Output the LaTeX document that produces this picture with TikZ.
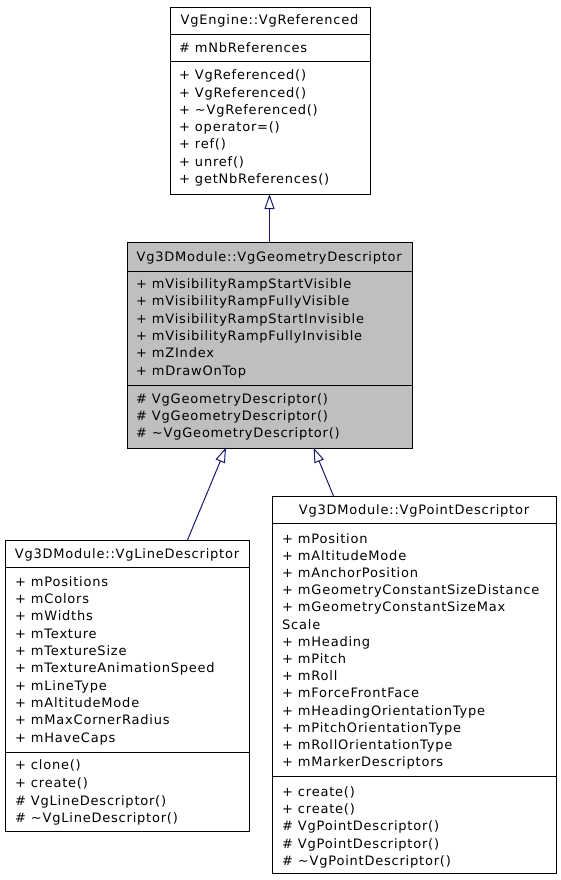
\documentclass[tikz,border=0pt]{standalone}
\usepackage{fontspec}
\setmainfont{DejaVu Sans}[LetterSpace=6]
\usetikzlibrary{arrows.meta}
\definecolor{edgeblue}{HTML}{191970}
\definecolor{boxgray}{HTML}{BFBFBF}
\tikzset{
  umlbox/.style={draw=black, line width=1pt},
  sep/.style={draw=black, line width=1pt},
  txt/.style={anchor=base west, inner sep=0pt, font=\fontsize{13}{15}\selectfont},
  ttl/.style={anchor=base, inner sep=0pt, font=\fontsize{13}{15}\selectfont},
  inherit/.style={draw=edgeblue, line width=1pt, -{Triangle[open, length=15pt, width=10pt, fill=white]}},
}
\begin{document}
\begin{tikzpicture}[x=1pt, y=-1pt]
\useasboundingbox (0,0) rectangle (560,880);

% ---------- VgEngine::VgReferenced ----------
\node[umlbox, fill=white, minimum width=200pt, minimum height=187pt, anchor=north west, inner sep=0pt] (ref) at (169.5,7) {};
\draw[sep] (169.5,34.5) -- (369.5,34.5);
\draw[sep] (169.5,61.5) -- (369.5,61.5);
\node[ttl] (refT) at (269.5,24.5) {VgEngine::VgReferenced};
\node[txt] (refA1) at (179,52.5) {\# mNbReferences};
\foreach [count=\i] \t in {+ VgReferenced(), + VgReferenced(), + \textasciitilde VgReferenced(), + operator=(), + ref(), + unref(), + getNbReferences()}
  \node[txt] (refM\i) at (179,{80+(\i-1)*17.2}) {\t};

% ---------- Vg3DModule::VgGeometryDescriptor ----------
\node[umlbox, fill=boxgray, minimum width=285.5pt, minimum height=205.5pt, anchor=north west, inner sep=0pt] (geo) at (126.5,242) {};
\draw[sep] (126.5,271.5) -- (412,271.5);
\draw[sep] (126.5,385) -- (412,385);
\node[ttl] (geoT) at (269.25,261) {Vg3DModule::VgGeometryDescriptor};
\foreach [count=\i] \t in {+ mVisibilityRampStartVisible, + mVisibilityRampFullyVisible, + mVisibilityRampStartInvisible, + mVisibilityRampFullyInvisible, + mZIndex, + mDrawOnTop}
  \node[txt] (geoA\i) at (136,{288.5+(\i-1)*17.35}) {\t};
\foreach [count=\i] \t in {\# VgGeometryDescriptor(), \# VgGeometryDescriptor(), \# \textasciitilde VgGeometryDescriptor()}
  \node[txt] (geoM\i) at (136,{403.5+(\i-1)*17.2}) {\t};

% ---------- Vg3DModule::VgLineDescriptor ----------
\node[umlbox, fill=white, minimum width=244pt, minimum height=291pt, anchor=north west, inner sep=0pt] (line) at (5,540) {};
\draw[sep] (5,567.5) -- (249,567.5);
\draw[sep] (5,752) -- (249,752);
\node[ttl] (lineT) at (127,558.5) {Vg3DModule::VgLineDescriptor};
\foreach [count=\i] \t in {+ mPositions, + mColors, + mWidths, + mTexture, + mTextureSize, + mTextureAnimationSpeed, + mLineType, + mAltitudeMode, + mMaxCornerRadius, + mHaveCaps}
  \node[txt] (lineA\i) at (15,{586.3+(\i-1)*17.3}) {\t};
\foreach [count=\i] \t in {+ clone(), + create(), \# VgLineDescriptor(), \# \textasciitilde VgLineDescriptor()}
  \node[txt] (lineM\i) at (15,{769.7+(\i-1)*17.7}) {\t};

% ---------- Vg3DModule::VgPointDescriptor ----------
\node[umlbox, fill=white, minimum width=284pt, minimum height=377pt, anchor=north west, inner sep=0pt] (point) at (272,496) {};
\draw[sep] (272,523.5) -- (556,523.5);
\draw[sep] (272,776.5) -- (556,776.5);
\node[ttl] (pointT) at (414,514.5) {Vg3DModule::VgPointDescriptor};
\foreach [count=\i] \t in {+ mPosition, + mAltitudeMode, + mAnchorPosition, + mGeometryConstantSizeDistance, + mGeometryConstantSizeMax, Scale, + mHeading, + mPitch, + mRoll, + mForceFrontFace, + mHeadingOrientationType, + mPitchOrientationType, + mRollOrientationType, + mMarkerDescriptors}
  \node[txt] (pointA\i) at (282,{543+(\i-1)*17.2}) {\t};
\foreach [count=\i] \t in {+ create(), + create(), \# VgPointDescriptor(), \# VgPointDescriptor(), \# \textasciitilde VgPointDescriptor()}
  \node[txt] (pointM\i) at (282,{796.3+(\i-1)*17.3}) {\t};

% ---------- inheritance arrows ----------
\coordinate (refIn) at (269.5,194);
\coordinate (geoOut) at (269.5,242);
\coordinate (geoInL) at (226,447.5);
\coordinate (geoInR) at (313.5,447.5);
\coordinate (lineOut) at (187.5,540);
\coordinate (pointOut) at (333.5,496);
\draw[inherit] (geoOut) -- (refIn);
\draw[inherit] (lineOut) -- (geoInL);
\draw[inherit] (pointOut) -- (geoInR);
\end{tikzpicture}
\end{document}
